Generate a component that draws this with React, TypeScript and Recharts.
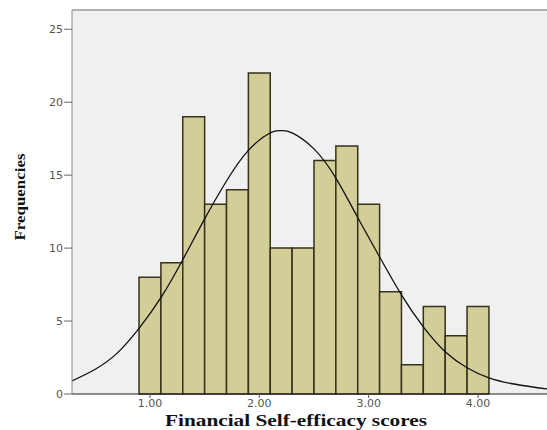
import React from 'react'
import {
  ComposedChart,
  Line,
  XAxis,
  YAxis,
  CartesianGrid,
  ReferenceArea,
  ReferenceLine,
  Label,
} from 'recharts'

// histogram bins (centre of each bin) and their counts
const binCentres = [1.0, 1.2, 1.4, 1.6, 1.8, 2.0, 2.2, 2.4, 2.6, 2.8, 3.0, 3.2, 3.4, 3.6, 3.8, 4.0]
const binCounts = [8, 9, 19, 13, 14, 22, 10, 10, 16, 17, 13, 7, 2, 6, 4, 6]
const binWidth = 0.2

// normal curve
const curveX = [0.287, 0.5, 0.7, 0.9, 1.1, 1.3, 1.5, 1.7, 1.9, 2.1, 2.2, 2.3, 2.5, 2.7, 2.9, 3.1, 3.3, 3.5, 3.7, 3.9, 4.1, 4.3, 4.5, 4.631]
const curveY = [0.9, 1.7, 2.8, 4.5, 6.6, 9.2, 12.0, 14.6, 16.7, 17.9, 18.05, 17.9, 16.8, 14.8, 12.1, 9.4, 6.8, 4.6, 2.9, 1.8, 1.1, 0.72, 0.48, 0.35]

const xTicks = [1, 2, 3, 4]
const yTicks = [0, 5, 10, 15, 20, 25]

const X_MIN = 0.287
const X_MAX = 4.631
const Y_MAX = 26.32

const curveData = curveX.map((x, i) => ({ x, y: curveY[i] }))

const tickStyle = { fontFamily: 'DejaVu Sans', fontSize: 11, fill: '#555' }

export default function App() {
  return (
    <div style={{ position: 'absolute', left: 0, top: 0, background: '#fff' }}>
      <ComposedChart
        width={547}
        height={430}
        data={curveData}
        margin={{ top: 10, right: 0, left: 0, bottom: 0 }}
      >
        <CartesianGrid fill="#f0f0f0" horizontal={false} vertical={false} />
        <XAxis
          dataKey="x"
          type="number"
          domain={[X_MIN, X_MAX]}
          allowDataOverflow
          ticks={xTicks}
          tickFormatter={(v: number) => v.toFixed(2)}
          tick={tickStyle}
          tickSize={4}
          tickMargin={1}
          height={36}
          stroke="#222"
          tickLine={{ stroke: '#555' }}
        >
          <Label
            content={({ viewBox }: any) => (
              <text
                x={viewBox.x + 224}
                y={viewBox.y + 32}
                textAnchor="middle"
                fontFamily="Liberation Serif"
                fontWeight="bold"
                fontSize={16}
                textLength={262}
                lengthAdjust="spacingAndGlyphs"
                fill="#111"
              >
                Financial Self-efficacy scores
              </text>
            )}
          />
        </XAxis>
        <YAxis
          type="number"
          domain={[0, Y_MAX]}
          allowDataOverflow
          ticks={yTicks}
          tick={tickStyle}
          tickSize={8}
          tickMargin={1}
          width={72}
          stroke="#888"
          tickLine={{ stroke: '#666' }}
        >
          <Label
            content={({ viewBox }: any) => {
              const cx = viewBox.x + 20
              const cy = viewBox.y + viewBox.height / 2 - 5
              return (
                <text
                  x={cx}
                  y={cy}
                  transform={`rotate(-90, ${cx}, ${cy})`}
                  textAnchor="middle"
                  dominantBaseline="central"
                  fontFamily="Liberation Serif"
                  fontWeight="bold"
                  fontSize={15}
                  textLength={87}
                  lengthAdjust="spacingAndGlyphs"
                  fill="#111"
                >
                  Frequencies
                </text>
              )
            }}
          />
        </YAxis>
        <ReferenceLine y={Y_MAX} stroke="#999" strokeWidth={1.5} ifOverflow="visible" />
        {binCentres.map((c, i) => (
          <ReferenceArea
            key={c}
            x1={c - binWidth / 2}
            x2={c + binWidth / 2}
            y1={0}
            y2={binCounts[i]}
            fill="#d3ce97"
            fillOpacity={1}
            stroke="#34321c"
            strokeWidth={1.5}
          />
        ))}
        <Line
          type="natural"
          dataKey="y"
          stroke="#111"
          strokeWidth={1.3}
          dot={false}
          activeDot={false}
          isAnimationActive={false}
        />
      </ComposedChart>
    </div>
  )
}
